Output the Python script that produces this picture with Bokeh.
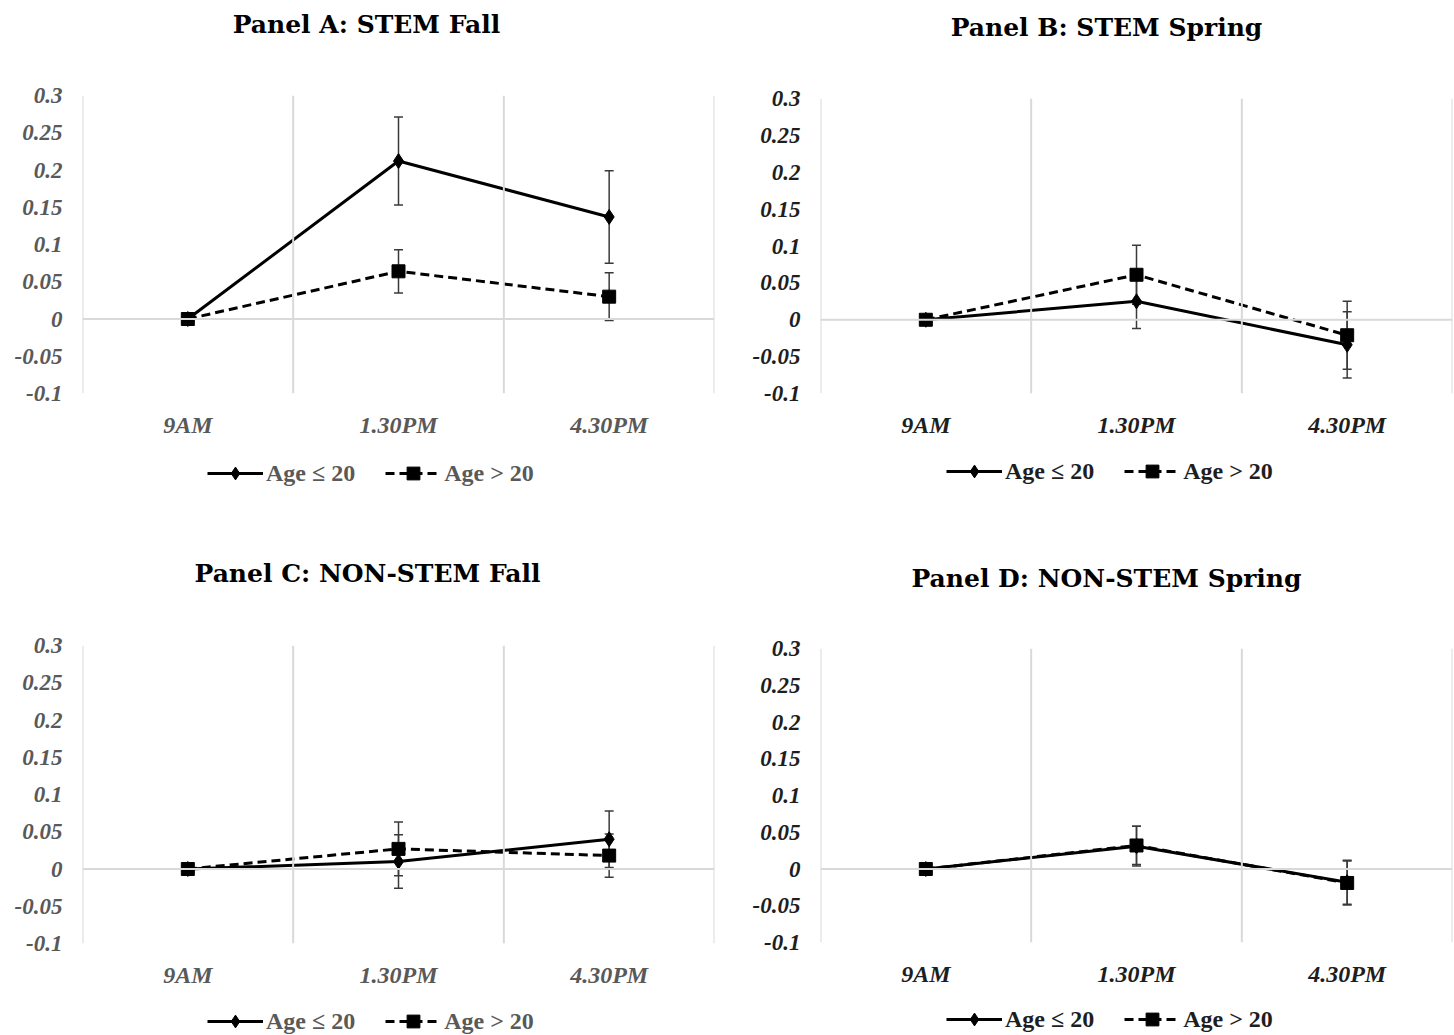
from bokeh.plotting import figure
from bokeh.models import (FactorRange, Range1d, FixedTicker, Span, Whisker, TeeHead,
                          ColumnDataSource, Legend, LegendItem)
from bokeh.core.properties import value
from bokeh.layouts import column, row
from bokeh.embed import file_html
from bokeh.resources import INLINE

# ---------------- data ----------------
TIMES = ["9AM", "1.30PM", "4.30PM"]
SERIES = ["Age \u2264 20", "Age > 20"]

TITLES = ["Panel A: STEM Fall", "Panel B: STEM Spring",
          "Panel C: NON-STEM Fall", "Panel D: NON-STEM Spring"]

A_young = [0.0, 0.212, 0.137]
A_young_err = [0.0, 0.059, 0.062]
A_old = [0.0, 0.064, 0.030]
A_old_err = [0.0, 0.029, 0.032]

B_young = [0.0, 0.025, -0.034]
B_young_err = [0.0, 0.037, 0.045]
B_old = [0.0, 0.061, -0.021]
B_old_err = [0.0, 0.040, 0.046]

C_young = [0.0, 0.010, 0.040]
C_young_err = [0.0, 0.036, 0.038]
C_old = [0.0, 0.027, 0.018]
C_old_err = [0.0, 0.036, 0.029]

D_young = [0.0, 0.031, -0.018]
D_young_err = [0.0, 0.027, 0.030]
D_old = [0.0, 0.032, -0.019]
D_old_err = [0.0, 0.026, 0.030]

Y_TICKS = [-0.1, -0.05, 0, 0.05, 0.1, 0.15, 0.2, 0.25, 0.3]
Y_LABELS = ["-0.1", "-0.05", "0", "0.05", "0.1", "0.15", "0.2", "0.25", "0.3"]

GRID = "#d9d9d9"
GRAY = "#595959"
DARK = "#1e1e1e"
W = 727
TOP = 14  # room above each frame for its top tick label

STYLES = [dict(dash="solid", marker="diamond", size=15),
          dict(dash="9 5", marker="square", size=13)]


def blank(height, x_range, y_range, left, right):
    p = figure(width=W, height=height, x_range=x_range, y_range=y_range,
               output_backend="svg", toolbar_location=None,
               x_axis_type=None, y_axis_type=None,
               min_border_left=left, min_border_right=right, min_border_top=0,
               min_border_bottom=0)
    p.outline_line_color = None
    p.grid.visible = False
    return p


def head(title, height, cx, cy, left, right):
    # frames in a column share their left/right borders, so map data to page px
    p = blank(height, Range1d(left, W - right), Range1d(0, height), left, right)
    p.text(x=[cx], y=[height - cy], text=[title], text_font=value("DejaVu Serif"),
           text_font_style="bold", text_font_size="25px", text_color="black",
           text_align="center", text_baseline="middle")
    return p


def main(series, height, left, right, label_color):
    p = figure(width=W, height=height, x_range=FactorRange(*TIMES),
               y_range=Range1d(-0.1, 0.3), output_backend="svg",
               toolbar_location=None, min_border_left=left,
               min_border_right=right, min_border_top=TOP,
               min_border_bottom=57)
    p.outline_line_color = None
    p.xgrid.visible = False
    p.ygrid.visible = False

    for i in range(len(TIMES) + 1):
        p.add_layout(Span(location=i, dimension="height", line_color=GRID,
                          line_width=2))
    p.add_layout(Span(location=0, dimension="width", line_color=GRID,
                      line_width=2))

    for ax in (p.xaxis[0], p.yaxis[0]):
        ax.axis_line_color = None
        ax.major_tick_line_color = None
        ax.minor_tick_line_color = None
        ax.major_label_text_font = "Liberation Serif"
        ax.major_label_text_font_style = "bold italic"
        ax.major_label_text_color = label_color
    p.yaxis.ticker = FixedTicker(ticks=Y_TICKS)
    p.yaxis.major_label_overrides = {t: l for t, l in zip(Y_TICKS, Y_LABELS)}
    p.yaxis.major_label_text_font_size = "23px"
    p.yaxis.major_label_standoff = 14
    p.xaxis.major_label_text_font_size = "24px"
    p.xaxis.major_label_standoff = 12

    for (vals, errs), st in zip(series, STYLES):
        src = ColumnDataSource(dict(x=TIMES, y=vals))
        p.line("x", "y", source=src, line_color="black", line_width=3,
               line_dash=st["dash"])
        p.scatter("x", "y", source=src, marker=st["marker"], size=st["size"],
                  fill_color="black", line_color="black")
        ex = [t for t, e in zip(TIMES, errs) if e > 0]
        up = [v + e for v, e in zip(vals, errs) if e > 0]
        lo = [v - e for v, e in zip(vals, errs) if e > 0]
        wsrc = ColumnDataSource(dict(x=ex, upper=up, lower=lo))
        p.add_layout(Whisker(source=wsrc, base="x", upper="upper", lower="lower",
                             line_color="#3a3a3a", line_width=1.5,
                             upper_head=TeeHead(size=9, line_color="#3a3a3a", line_width=1.5),
                             lower_head=TeeHead(size=9, line_color="#3a3a3a", line_width=1.5)))
    return p


def legend_fig(series, height, lx, ly, left, right, label_color):
    # same series drawn outside the visible y-range; only the legend shows
    p = blank(height, FactorRange(*TIMES), Range1d(5, 6), left, right)
    items = []
    for name, (vals, errs), st in zip(SERIES, series, STYLES):
        ln = p.line(TIMES, vals, line_color="black", line_width=3,
                    line_dash=st["dash"])
        mk = p.scatter(TIMES, vals, marker=st["marker"], size=st["size"],
                       fill_color="black", line_color="black")
        items.append(LegendItem(label=name, renderers=[ln, mk]))
    leg = Legend(items=items, orientation="horizontal",
                 location=(lx - left, ly),
                 border_line_color=None, background_fill_alpha=0,
                 glyph_width=56, glyph_height=32, label_height=24,
                 spacing=30, padding=0, margin=0, label_standoff=3,
                 label_text_font="Liberation Serif",
                 label_text_font_style="bold", label_text_font_size="24px",
                 label_text_color=label_color)
    p.add_layout(leg)
    return p


serA = [(A_young, A_young_err), (A_old, A_old_err)]
serB = [(B_young, B_young_err), (B_old, B_old_err)]
serC = [(C_young, C_young_err), (C_old, C_old_err)]
serD = [(D_young, D_young_err), (D_old, D_old_err)]

colA = column(head(TITLES[0], 95 - TOP, 366, 24, 82, 13),
              main(serA, 355 + TOP, 82, 13, GRAY),
              legend_fig(serA, 100, 207, 61, 82, 13, GRAY))
colB = column(head(TITLES[1], 98 - TOP, 1106 - W, 27, 93, 2),
              main(serB, 352 + TOP, 93, 2, DARK),
              legend_fig(serB, 100, 946 - W, 63, 93, 2, DARK))
colC = column(head(TITLES[2], 95 - TOP, 367, 23, 82, 13),
              main(serC, 355 + TOP, 82, 13, GRAY),
              legend_fig(serC, 35, 207, -2, 82, 13, GRAY))
colD = column(head(TITLES[3], 98 - TOP, 1106 - W, 28, 93, 2),
              main(serD, 351 + TOP, 93, 2, DARK),
              legend_fig(serD, 36, 946 - W, 0, 93, 2, DARK))

layout = column(row(colA, colB), row(colC, colD))
open("out.html", "w").write(file_html(layout, INLINE))
